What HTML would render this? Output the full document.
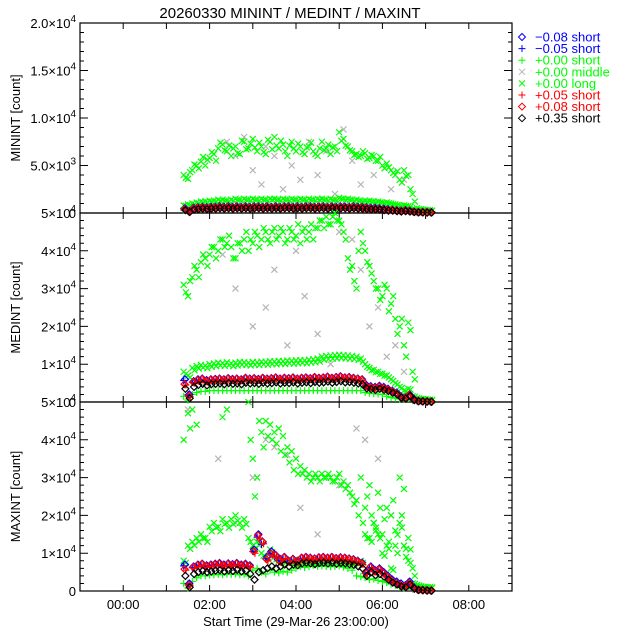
<!DOCTYPE html>
<html><head><meta charset="utf-8"><style>
html,body{margin:0;padding:0;background:#fff;}
svg{display:block;font-family:"Liberation Sans",sans-serif;}
</style></head><body>
<svg id="chart" width="640" height="640" viewBox="0 0 640 640" xmlns="http://www.w3.org/2000/svg">
<rect width="640" height="640" fill="#fff"/>
<text x="290" y="18" font-size="15" text-anchor="middle">20260330 MININT / MEDINT / MAXINT</text>
<g id="axes"></g>
<g id="marks"></g>
<g id="legend"></g>
</svg>
<script>
// ---- data (hours since 00:00; values in counts) ----
const times = [1.4,1.5,1.6,1.7,1.8,1.9,2.0,2.1,2.2,2.3,2.4,2.5,2.6,2.7,2.8,2.9,3.0,3.1,3.2,3.3,3.4,3.5,3.6,3.7,3.8,3.9,4.0,4.1,4.2,4.3,4.4,4.5,4.6,4.7,4.8,4.9,5.0,5.1,5.2,5.3,5.4,5.5,5.6,5.7,5.8,5.9,6.0,6.1,6.2,6.3,6.4,6.5,6.6,6.7,6.8,6.9,7.0,7.1];
// MININT
const minLong  = [4000,3600,4500,5000,5400,5000,5800,6200,6800,7200,6500,6000,7000,6200,7500,6800,7800,6500,7000,6200,7500,8000,6800,7200,6000,7500,6500,7000,6200,7000,6500,6000,7500,6800,6200,7000,8500,7800,7000,6500,6200,6000,6300,5800,6000,5500,5000,5200,4500,4000,3500,4500,4000,2000,500,400,300,300];
const minLong2 = [3700,4300,5100,4700,5900,5600,6400,5500,7400,6600,7100,6800,6300,7600,6700,7300,6900,7400,6400,7700,6700,7100,7600,6500,7100,6800,7300,6400,6900,7400,6200,6800,6600,7200,6900,6500,7600,7100,6600,6100,5900,6500,5700,6100,5500,5900,4700,4800,4200,4400,3200,3900,2500,1200,400,350,300,250];
const minMid   = [800,900,1000,1100,1200,1200,1300,1300,1400,1400,1300,1400,1500,1400,1500,1400,1500,1400,1500,1400,1500,1500,1400,1500,1400,1500,1400,1500,1400,1500,1400,1500,1500,1400,1500,1400,1600,1500,1500,1400,1400,1300,1300,1300,1200,1200,1100,1100,1000,900,800,800,700,400,300,300,250,250];
const minShort = [300,200,400,500,500,500,600,600,600,600,600,600,600,600,600,600,600,600,600,600,600,600,600,600,600,600,600,600,600,600,600,600,600,600,600,600,600,600,600,600,600,600,500,500,500,500,400,400,400,300,300,300,300,200,150,150,100,100];
const minBlueD = [500,200,550,600,650,600,650,650,700,650,700,650,700,650,700,650,700,700,650,700,650,700,650,700,700,650,700,650,700,700,650,700,700,650,700,650,700,700,650,700,650,650,600,550,550,500,450,400,350,300,250,300,250,150,100,100,80,80];
const minRedP  = [400,150,450,500,550,500,550,550,600,550,600,550,600,550,600,550,600,600,550,600,550,600,550,600,600,550,600,550,600,600,550,600,600,550,600,550,600,600,550,600,550,550,500,450,450,400,350,300,300,250,200,250,200,120,80,80,60,60];
const minBlackD= [300,100,350,400,450,400,450,450,500,450,500,450,500,450,500,450,500,500,450,500,450,500,450,500,500,450,500,450,500,500,450,500,500,450,500,450,500,500,450,500,450,450,400,380,380,350,300,250,250,200,150,200,150,100,60,60,50,50];
// MEDINT
const medLong  = [31000,28000,33000,35000,37000,38000,39000,41000,40000,43000,42000,41000,38000,42000,43000,40000,42000,44000,43000,45000,42000,46000,44000,45000,43000,45000,44000,42000,46000,45000,43000,46000,48000,49000,47000,50000,48000,45000,38000,36000,30000,45000,40000,36000,32000,30000,28000,30000,26000,22000,20000,15000,21000,8000,1000,800,600,500];
const medLong2 = [29000,32000,36000,33000,39000,36000,41000,38000,43000,41000,44000,38000,42000,40000,45000,43000,45000,41000,46000,43000,45000,43000,46000,42000,46000,43000,47000,45000,43000,47000,46000,48000,46000,47000,49000,48000,47000,43000,35000,32000,40000,42000,37000,34000,30000,27000,31000,24000,28000,18000,22000,12000,19000,6000,900,700,500,400];
const medMid   = [8000,7000,9000,9500,9800,9600,10000,10200,10400,10300,10500,10200,10400,10600,10500,10400,10600,10500,10700,10600,10800,10700,10900,10800,11000,10900,11000,11100,11000,11200,11300,11500,12000,12200,12300,12400,12500,12400,12300,12200,12000,11500,10000,9000,8500,8000,7500,7000,6000,5000,4000,3000,3500,1500,1000,800,700,600];
const medShort = [1500,500,2000,2500,2800,2800,3000,3000,3000,3000,3000,3000,3000,3000,3000,3000,3000,3000,3000,3000,3000,3000,3000,3000,3000,3000,3000,3000,3000,3000,3000,3000,3000,3000,3000,3000,3000,3000,3000,3000,3000,3000,2500,2300,2200,2100,2000,1500,1200,1000,800,700,900,400,300,300,200,200];
const medBlueD = [6000,2000,5500,6000,6200,5800,6000,6100,6200,6000,6300,6100,6200,6000,6400,6200,6300,6100,6400,6200,6300,6500,6200,6400,6300,6500,6200,6400,6500,6300,6600,6400,6500,6700,6400,6600,6800,6500,6600,6400,6200,6000,4500,4200,4000,4300,4000,3500,3000,2500,1500,1200,2000,800,300,200,150,100];
const medRedP  = [4500,1500,5000,5500,5800,5300,5600,5700,5800,5600,5900,5700,5800,5600,6000,5800,5900,5700,6000,5800,5900,6100,5800,6000,5900,6100,5800,6000,6100,5900,6200,6000,6100,6300,6000,6200,6400,6100,6200,6000,5800,5600,4000,3800,3600,3900,3600,3200,2700,2200,1300,1000,1800,600,250,180,120,80];
const medBlackD= [3500,1000,4000,4500,4800,4400,4700,4800,4900,4700,5000,4800,4900,4700,5100,4900,5000,4800,5100,4900,5000,5200,4900,5100,5000,5200,4900,5100,5200,5000,5300,5100,5200,5400,5100,5300,5500,5200,5300,5100,4900,4700,3600,3400,3200,3500,3200,2900,2400,2000,1100,900,1600,500,200,150,100,70];
// MAXINT
const maxLong  = [40000,47000,48000,44000,null,null,null,null,null,46000,48000,null,null,null,null,50000,35000,30000,42000,45000,44000,42000,43000,41000,38000,37000,35000,33000,32000,31000,30000,30000,31000,30000,30000,29000,31000,29000,28000,25000,24000,30000,22000,28000,18000,26000,15000,22000,20000,12000,30000,27000,14000,6000,1500,1200,1000,900];
const maxLong2 = [null,43000,null,null,null,null,null,null,null,null,null,null,null,null,null,40000,25000,45000,38000,41000,40000,39000,37000,36000,34000,32000,31000,31000,30000,29000,31000,29000,30000,31000,29000,30000,28000,27000,26000,23000,20000,18000,25000,20000,16000,22000,19000,13000,24000,10000,20000,9000,11000,4000,1200,1000,900,800];
const maxMid   = [8000,12000,13000,14000,15000,14000,17000,18000,17000,19000,18000,19000,20000,18000,19000,14000,12000,13000,10000,9000,11000,9000,8000,8000,7800,8000,7500,7800,8000,7800,7500,7600,7800,8000,7600,7800,8000,7600,7800,7500,7600,8000,15000,14000,18000,15000,10000,12000,6000,16000,18000,12000,8000,2000,1500,1200,1000,1000];
const maxShort = [2000,800,2500,3500,4000,4000,4200,4300,4400,4300,4500,4400,4500,4300,4400,4000,5500,6000,5000,4500,5500,5000,4800,5200,5000,5500,6000,6500,6200,6500,6800,6500,6600,6500,6400,6500,6600,6300,6000,5500,4000,3800,3500,3000,3200,2800,2500,2200,1800,1500,1000,800,1200,500,400,400,300,300];
const maxBlueD = [7000,2000,6500,7000,7200,6800,7000,7200,7400,7000,7300,7100,7400,7000,7200,6800,11000,15000,13000,9000,10500,9500,8500,9000,8000,8500,8000,8800,9000,8800,8600,8900,9000,8800,9000,8700,8900,8800,8600,8400,8000,7500,5000,6500,5500,6000,5000,4000,3000,2500,2000,1500,2500,1000,400,300,200,150];
const maxRedP  = [5500,1500,6000,6500,6800,6300,6500,6700,6900,6500,6800,6600,6900,6500,6700,6300,10000,14000,12500,8000,9500,9000,7500,8500,7500,8000,7500,8300,8500,8300,8100,8400,8500,8300,8500,8200,8400,8300,8100,7900,7500,7000,4500,6000,5000,5500,4500,3500,2500,2000,1500,1200,2000,800,300,250,150,100];
const maxBlackD= [4000,1000,4500,5000,5300,5000,5200,5400,5500,5200,5500,5300,5600,5200,5400,4500,3000,5000,5500,6000,6500,6000,6500,7000,6500,7000,6800,7300,7500,7300,7100,7400,7500,7300,7500,7200,7400,7300,7100,6900,6500,6000,4000,5000,4200,4500,3800,3000,2200,1700,1200,1000,1700,600,250,200,120,80];
// gray scattered samples
const minGrayT = [2.4,2.6,2.8,3.0,3.2,3.3,3.5,3.7,3.9,4.1,4.3,4.5,4.7,4.9,5.1,5.3,5.5,5.8,6.2,6.5];
const minGrayV = [7500,6000,8000,4500,3000,7000,6000,2500,5000,3500,7500,4000,6500,2000,8800,5500,3000,4000,2500,3500];
const medGrayT = [2.3,2.6,3.0,3.3,3.5,3.8,4.0,4.2,4.5,4.8,5.0,5.3,5.5,5.7,5.9,6.1,6.3,6.5];
const medGrayV = [39000,30000,20000,25000,35000,15000,40000,28000,18000,10000,45000,43000,35000,20000,25000,12000,15000,8000];
const maxGrayT = [1.5,2.2,2.6,3.0,3.3,3.5,3.8,4.1,4.5,5.0,5.4,5.6,5.9,6.2,6.5];
const maxGrayV = [48000,35000,18000,30000,40000,38000,36000,22000,15000,28000,43000,40000,35000,20000,12000];
// ticks
const xTickHours = [-1,0,1,2,3,4,5,6,7,8,9];
const xLabelHours = [0,2,4,6,8];
const xLabels = ["00:00","02:00","04:00","06:00","08:00"];
const p1Ticks = [0,5000,10000,15000,20000];
const p1Labels = [["0",""],["5.0×10","3"],["1.0×10","4"],["1.5×10","4"],["2.0×10","4"]];
const p23Ticks = [0,10000,20000,30000,40000,50000];
const p23Labels = [["0",""],["1×10","4"],["2×10","4"],["3×10","4"],["4×10","4"],["5×10","4"]];
const legendLabels = ["−0.08 short","−0.05 short","+0.00 short","+0.00 middle","+0.00 long","+0.05 short","+0.08 short","+0.35 short"];

// ---- layout ----
const NS="http://www.w3.org/2000/svg";
const X0=80, X1=512, T0=-1, T1=9;
const panels=[
 {name:"minint",top:23,bot:213,max:20000,ylabel:"MININT [count]",ticks:p1Ticks,labels:p1Labels,minor:1000},
 {name:"medint",top:213,bot:402,max:50000,ylabel:"MEDINT [count]",ticks:p23Ticks,labels:p23Labels,minor:2000},
 {name:"maxint",top:402,bot:591,max:50000,ylabel:"MAXINT [count]",ticks:p23Ticks,labels:p23Labels,minor:2000}];
const xs=t=>X0+(t-T0)/(T1-T0)*(X1-X0);
const ys=(v,p)=>p.bot-(v/p.max)*(p.bot-p.top);
const axes=document.getElementById('axes'), marks=document.getElementById('marks'), legend=document.getElementById('legend');
function mk(tag,attrs,parent){const e=document.createElementNS(NS,tag);for(const k in attrs)e.setAttribute(k,attrs[k]);parent.appendChild(e);return e;}
function markerPath(type,x,y){
  if(type==='diamond') return `M${x},${y-3.5}L${x+3.5},${y}L${x},${y+3.5}L${x-3.5},${y}Z`;
  if(type==='plus') return `M${x-3.5},${y}H${x+3.5}M${x},${y-3.5}V${y+3.5}`;
  return `M${x-3},${y-3}L${x+3},${y+3}M${x-3},${y+3}L${x+3},${y-3}`;
}
function drawSeries(name,p,tArr,vArr,type,color){
  let d='';
  for(let i=0;i<tArr.length;i++){
    const v=vArr[i]; if(v===null||v===undefined) continue;
    if(v>p.max||v<0) continue;
    d+=markerPath(type,xs(tArr[i]),ys(v,p));
  }
  const e=mk('path',{d:d,fill:'none',stroke:color,'stroke-width':1.2},marks);
  
  
}
const G='#00ff00', GR='#b4b4b4', B='#0000ff', R='#ff0000', K='#000000';
const sets=[
 [minLong,minLong2,minMid,minShort,minBlueD,minRedP,minBlackD,minGrayT,minGrayV],
 [medLong,medLong2,medMid,medShort,medBlueD,medRedP,medBlackD,medGrayT,medGrayV],
 [maxLong,maxLong2,maxMid,maxShort,maxBlueD,maxRedP,maxBlackD,maxGrayT,maxGrayV]];
panels.forEach((p,pi)=>{
  const s=sets[pi];
  drawSeries(p.name+'-gray-series',p,s[7],s[8],'x',GR);
  drawSeries(p.name+'-long-series',p,times,s[0],'x',G);
  if(s[1]) drawSeries(p.name+'-long-series-b',p,times.map(t=>t+0.05),s[1],'x',G);
  drawSeries(p.name+'-middle-series',p,times,s[2],'x',G);
  drawSeries(p.name+'-middle-series-b',p,times.map(t=>t+0.05),s[2].map(v=>v*0.93),'x',G);
  drawSeries(p.name+'-short-series',p,times,s[3],'plus',G);
  drawSeries(p.name+'-m008-series',p,times.map(t=>t+0.03),s[4],'diamond',B);
  drawSeries(p.name+'-m005-series',p,times,s[4].map(v=>v*0.95),'plus',B);
  drawSeries(p.name+'-p005-series',p,times.map(t=>t+0.05),s[5],'plus',R);
  drawSeries(p.name+'-p008-series',p,times.map(t=>t+0.02),s[5].map(v=>v*1.05),'diamond',R);
  drawSeries(p.name+'-p035-series',p,times.map(t=>t+0.04),s[6],'diamond',K);
  const fr=mk('rect',{x:X0,y:p.top,width:X1-X0,height:p.bot-p.top,fill:'none',stroke:'#000','stroke-width':1.2},axes);
  
  
  let d='';
  xTickHours.forEach(h=>{const x=xs(h);d+=`M${x},${p.bot}V${p.bot-6}M${x},${p.top}V${p.top+6}`;});
  for(let v=0;v<=p.max;v+=p.minor){const y=ys(v,p);const L=(p.ticks.indexOf(v)>=0)?8:4;d+=`M${X0},${y}H${X0+L}M${X1},${y}H${X1-L}`;}
  const tk=mk('path',{d:d,stroke:'#000','stroke-width':1,fill:'none'},axes);
  
  
  p.ticks.forEach((v,i)=>{
    const y=ys(v,p);
    const t=mk('text',{x:76,y:y+5,'font-size':13,'text-anchor':'end'},axes);
    
    
    const lab=p.labels[i];
    if(lab[1]){t.textContent=lab[0];const sp=mk('tspan',{dy:-6,'font-size':10},t);sp.textContent=lab[1];}
    else t.textContent=lab[0];
  });
  const cy=(p.top+p.bot)/2;
  const yl=mk('text',{x:0,y:0,'font-size':13,'text-anchor':'middle',transform:`translate(20,${cy}) rotate(-90)`},axes);
  
  
  yl.textContent=p.ylabel;
});
xLabelHours.forEach((h,i)=>{
  const t=mk('text',{x:xs(h),y:609,'font-size':13,'text-anchor':'middle'},axes);
  
  
  t.textContent=xLabels[i];
});
const xt=mk('text',{x:296,y:626,'font-size':13,'text-anchor':'middle'},axes);


xt.textContent='Start Time (29-Mar-26 23:00:00)';
const legTypes=['diamond','plus','plus','x','x','plus','diamond','diamond'];
const legColors=[B,B,G,GR,G,R,R,K];
const legText=[B,B,G,G,G,R,R,K];
legendLabels.forEach((s,i)=>{
  const y=37+i*11.6;
  const m=mk('path',{d:markerPath(legTypes[i],522,y),fill:'none',stroke:legColors[i],'stroke-width':1},legend);
  
  
  const t=mk('text',{x:535,y:y+4.5,'font-size':13,fill:legText[i]},legend);
  
  
  t.textContent=s;
});
</script>
</body></html>
